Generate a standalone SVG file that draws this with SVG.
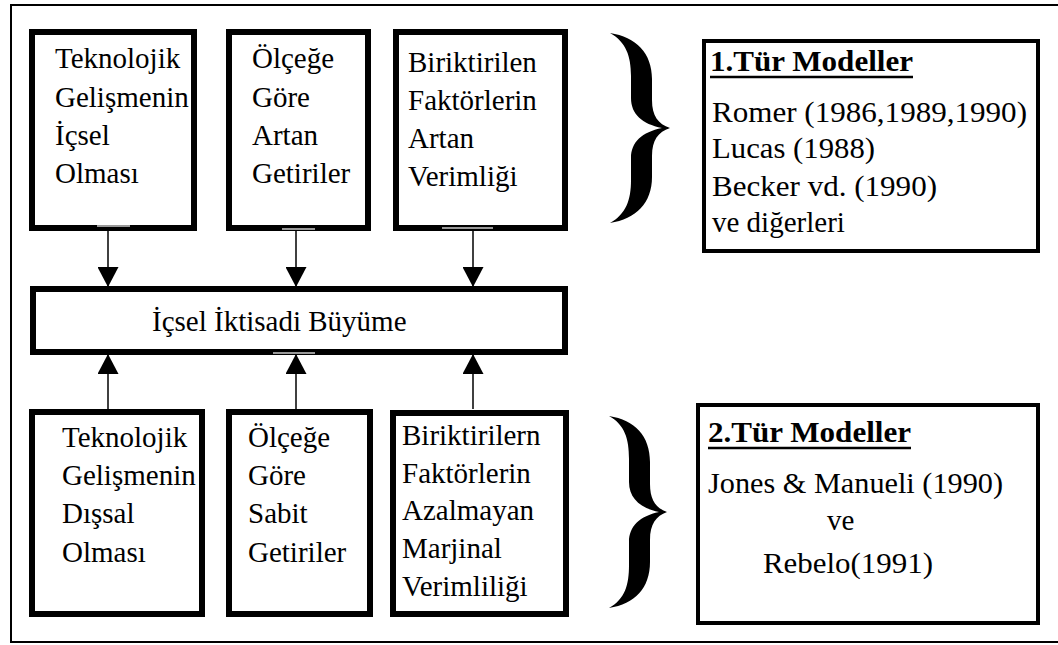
<svg xmlns="http://www.w3.org/2000/svg" width="1058" height="645" viewBox="0 0 1058 645">
<defs>
<style>
.box{fill:#fff;stroke:#000;stroke-width:6}
.rbox{fill:#fff;stroke:#000;stroke-width:4}
.ln{stroke:#000;stroke-width:1.5;fill:none}
.gr{stroke:#999;stroke-width:2}
.brace{fill:#000}
</style>
<marker id="ah" viewBox="0 0 20 21" refX="20" refY="10.5" markerWidth="20" markerHeight="21" markerUnits="userSpaceOnUse" orient="auto">
<path d="M0,0 L20,10.5 L0,21 Z" fill="#000"/>
</marker>
</defs>
<rect x="0" y="0" width="1058" height="645" fill="#fff"/>
<path d="M1060,5 L11,5 L11,642 L1060,642" fill="none" stroke="#000" stroke-width="2"/>

<g id="connectors">
<line class="ln" x1="108" y1="231" x2="108" y2="287" marker-end="url(#ah)"/>
<line class="ln" x1="296" y1="231" x2="296" y2="287" marker-end="url(#ah)"/>
<line class="ln" x1="473" y1="231" x2="473" y2="287" marker-end="url(#ah)"/>
<line class="ln" x1="108" y1="409" x2="108" y2="354" marker-end="url(#ah)"/>
<line class="ln" x1="296" y1="409" x2="296" y2="354" marker-end="url(#ah)"/>
<line class="ln" x1="473" y1="409" x2="473" y2="354" marker-end="url(#ah)"/>
</g>

<g id="n1">
<rect class="box" x="32" y="32" width="162" height="196"/>
<line class="gr" x1="97" y1="226" x2="130" y2="226"/>
<text font-family="Liberation Serif" font-size="29"><tspan x="55" y="68">Teknolojik</tspan><tspan x="55" y="107">Gelişmenin</tspan><tspan x="55" y="145">İçsel</tspan><tspan x="55" y="183">Olması</tspan></text>
</g>
<g id="n2">
<rect class="box" x="229" y="32" width="139" height="196"/>
<line class="gr" x1="282" y1="229" x2="315" y2="229"/>
<text font-family="Liberation Serif" font-size="29"><tspan x="252" y="68">Ölçeğe</tspan><tspan x="252" y="107">Göre</tspan><tspan x="252" y="145">Artan</tspan><tspan x="252" y="183">Getiriler</tspan></text>
</g>
<g id="n3">
<rect class="box" x="396" y="32" width="169" height="196"/>
<line class="gr" x1="442" y1="228" x2="493" y2="228"/>
<text font-family="Liberation Serif" font-size="29"><tspan x="408" y="72">Biriktirilen</tspan><tspan x="408" y="110">Faktörlerin</tspan><tspan x="408" y="148">Artan</tspan><tspan x="408" y="186">Verimliği</tspan></text>
</g>
<g id="brace1">
<path class="brace" d="M610,33 C636,37 652,53 652,79 L652,100 C652,116 658,124 670,128 C658,132 652,140 652,156 L652,177 C652,203 636,219 610,223 C626,214 631,200 631,180 L631,158 C631,142 642,132 662,128 C642,124 631,114 631,98 L631,76 C631,56 626,42 610,33 Z"/>
</g>
<g id="m1">
<rect class="rbox" x="704" y="41" width="334" height="210"/>
<text font-family="Liberation Serif" font-size="29" font-weight="bold" x="710" y="71" textLength="203" lengthAdjust="spacingAndGlyphs">1.Tür Modeller</text>
<line x1="710" y1="77" x2="913" y2="77" stroke="#000" stroke-width="2.5"/>
<text font-family="Liberation Serif" font-size="29" x="712" y="122" textLength="315" lengthAdjust="spacingAndGlyphs">Romer (1986,1989,1990)</text>
<text font-family="Liberation Serif" font-size="29" x="712" y="158" textLength="163" lengthAdjust="spacingAndGlyphs">Lucas (1988)</text>
<text font-family="Liberation Serif" font-size="29" x="712" y="196" textLength="225" lengthAdjust="spacingAndGlyphs">Becker vd. (1990)</text>
<text font-family="Liberation Serif" font-size="29" x="712" y="232">ve diğerleri</text>
</g>

<g id="center">
<rect class="box" x="33" y="289" width="532" height="63"/>
<line class="gr" x1="273" y1="353" x2="315" y2="353"/>
<text font-family="Liberation Serif" font-size="29" x="152" y="331">İçsel İktisadi Büyüme</text>
</g>

<g id="n4">
<rect class="box" x="32" y="412" width="170" height="202"/>
<text font-family="Liberation Serif" font-size="29"><tspan x="62" y="447">Teknolojik</tspan><tspan x="62" y="485">Gelişmenin</tspan><tspan x="62" y="523">Dışsal</tspan><tspan x="62" y="562">Olması</tspan></text>
</g>
<g id="n5">
<rect class="box" x="229" y="412" width="141" height="202"/>
<text font-family="Liberation Serif" font-size="29"><tspan x="248" y="447">Ölçeğe</tspan><tspan x="248" y="485">Göre</tspan><tspan x="248" y="523">Sabit</tspan><tspan x="248" y="562">Getiriler</tspan></text>
</g>
<g id="n6">
<rect class="box" x="393" y="413" width="173" height="201"/>
<text font-family="Liberation Serif" font-size="29"><tspan x="402" y="445">Biriktirilern</tspan><tspan x="402" y="483">Faktörlerin</tspan><tspan x="402" y="520">Azalmayan</tspan><tspan x="402" y="558">Marjinal</tspan><tspan x="402" y="596">Verimliliği</tspan></text>
</g>
<g id="brace2">
<path class="brace" d="M609,416 C635,420 650,436 650,462 L650,484 C650,500 656,508 667,512 C656,516 650,524 650,540 L650,562 C650,588 635,604 609,608 C625,599 629,585 629,565 L629,542 C629,526 640,516 659,512 C640,508 629,498 629,482 L629,459 C629,439 625,425 609,416 Z"/>
</g>
<g id="m2">
<rect class="rbox" x="698" y="405" width="340" height="218"/>
<text font-family="Liberation Serif" font-size="29" font-weight="bold" x="708" y="442" textLength="203" lengthAdjust="spacingAndGlyphs">2.Tür Modeller</text>
<line x1="708" y1="448" x2="911" y2="448" stroke="#000" stroke-width="2.5"/>
<text font-family="Liberation Serif" font-size="29" x="708" y="493" textLength="295" lengthAdjust="spacingAndGlyphs">Jones &amp; Manueli (1990)</text>
<text font-family="Liberation Serif" font-size="29" x="827" y="530">ve</text>
<text font-family="Liberation Serif" font-size="29" x="763" y="573" textLength="170" lengthAdjust="spacingAndGlyphs">Rebelo(1991)</text>
</g>
</svg>
